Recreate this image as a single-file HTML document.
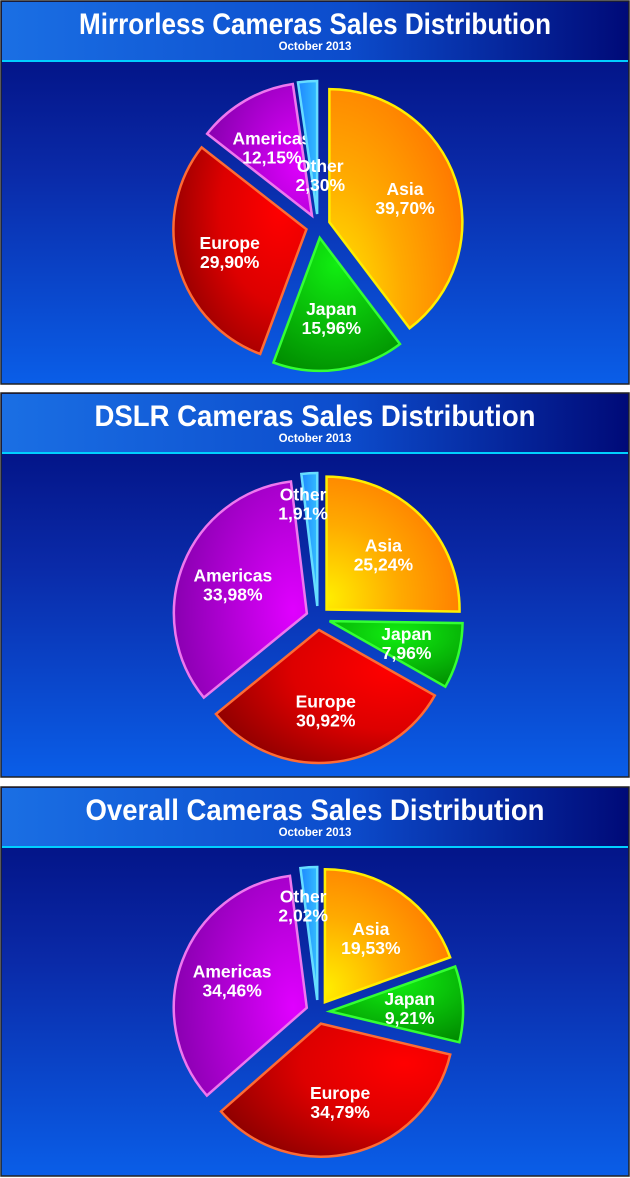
<!DOCTYPE html>
<html><head><meta charset="utf-8">
<style>
html,body{margin:0;padding:0;background:#fff;width:630px;height:1178px;overflow:hidden}
svg{display:block;font-family:"Liberation Sans",Arial,sans-serif}
</style></head>
<body>
<svg id="root" width="630" height="1178" viewBox="0 0 630 1178">
<defs>
<linearGradient id="hdr" x1="0" y1="0" x2="1" y2="0"><stop offset="0" stop-color="#1a6fe4"/><stop offset="0.55" stop-color="#0c4ccc"/><stop offset="1" stop-color="#000a78"/></linearGradient>
<linearGradient id="bod" x1="0" y1="0" x2="0" y2="1"><stop offset="0" stop-color="#000a78"/><stop offset="0.45" stop-color="#0a2aa8"/><stop offset="1" stop-color="#0a5ee8"/></linearGradient>
<radialGradient id="g-asia" cx="0" cy="0.9" r="1.1"><stop offset="0" stop-color="#ffee00"/><stop offset="0.5" stop-color="#ffaa00"/><stop offset="1" stop-color="#ff7800"/></radialGradient>
<radialGradient id="g-japan" cx="0.5" cy="0.2" r="0.9"><stop offset="0" stop-color="#11ee11"/><stop offset="1" stop-color="#008a00"/></radialGradient>
<radialGradient id="g-europe" cx="0.8" cy="0.3" r="0.9"><stop offset="0" stop-color="#ff0000"/><stop offset="0.5" stop-color="#dd0000"/><stop offset="1" stop-color="#8a0000"/></radialGradient>
<radialGradient id="g-americas" cx="0.9" cy="0.6" r="1"><stop offset="0" stop-color="#e000ff"/><stop offset="1" stop-color="#8000a8"/></radialGradient>
<linearGradient id="g-other" x1="0" y1="0" x2="1" y2="0"><stop offset="0" stop-color="#1e88ff"/><stop offset="1" stop-color="#33bbff"/></linearGradient>
</defs>
</svg>
<script>
const NS='http://www.w3.org/2000/svg';
const titles=['Mirrorless Cameras Sales Distribution','DSLR Cameras Sales Distribution','Overall Cameras Sales Distribution'];
const titleWidths=[472,441,459];
const regions=['Asia','Japan','Europe','Americas','Other'];
const mirrorlessValues=[39.70,15.96,29.90,12.15,2.30];
const dslrValues=[25.24,7.96,30.92,33.98,1.91];
const overallValues=[19.53,9.21,34.79,34.46,2.02];
const valueLabels=[['39,70%','15,96%','29,90%','12,15%','2,30%'],['25,24%','7,96%','30,92%','33,98%','1,91%'],['19,53%','9,21%','34,79%','34,46%','2,02%']];
const allValues=[mirrorlessValues,dslrValues,overallValues];
const fills=['url(#g-asia)','url(#g-japan)','url(#g-europe)','url(#g-americas)','url(#g-other)'];
const strokes=['#ffee00','#33ff33','#ff6a33','#ee77ee','#66ddff'];
const panelTops=[1,393,787];
const panelH=[383,384,389];
const otherLabelR=[0.3,0.78,0.72];
const root=document.getElementById('root');
function mk(tag,attrs,parent){const e=document.createElementNS(NS,tag);for(const k in attrs)e.setAttribute(k,attrs[k]);parent.appendChild(e);return e;}
function angleScale(v,total){return v/total*Math.PI*2;}
allValues.forEach((vals,pi)=>{
  const top=panelTops[pi],h=panelH[pi];
  const g=mk('g',{},root);
  
  
  const bg=mk('rect',{x:1,y:top,width:628,height:h,fill:'url(#bod)',stroke:'#222',"stroke-width":1.5},g);
  
  
  const hd=mk('rect',{x:2,y:top+1,width:626,height:58,fill:'url(#hdr)'},g);
  
  
  const ln=mk('rect',{x:2,y:top+59,width:626,height:2,fill:'#00d0ff'},g);
  
  
  const t=mk('text',{x:315,y:top+33,"text-anchor":"middle",fill:'#fff',"font-size":30,"font-weight":'bold',textLength:titleWidths[pi],lengthAdjust:'spacingAndGlyphs'},g);
  t.textContent=titles[pi];
  
  
  const st=mk('text',{x:315,y:top+49,"text-anchor":"middle",fill:'#fff',"font-size":11.5,"font-weight":'bold'},g);
  st.textContent='October 2013';
  
  
  const cx=318,cy=top+225,r=133,ex=12;
  const total=vals.reduce((a,b)=>a+b,0);
  let a0=0;
  vals.forEach((v,i)=>{
    const span=angleScale(v,total),a1=a0+span,mid=a0+span/2;
    const ox=cx+ex*Math.sin(mid),oy=cy-ex*Math.cos(mid);
    const x0=ox+r*Math.sin(a0),y0=oy-r*Math.cos(a0),x1=ox+r*Math.sin(a1),y1=oy-r*Math.cos(a1);
    const d=`M${ox},${oy} L${x0},${y0} A${r},${r} 0 ${span>Math.PI?1:0} 1 ${x1},${y1} Z`;
    const p=mk('path',{d:d,fill:fills[i],stroke:strokes[i],"stroke-width":2.5,"stroke-linejoin":'miter'},g);
    
    
    const lr=(i===4?otherLabelR[pi]:0.6)*r;
    const lx=ox+lr*Math.sin(mid)+(i===4?(pi===0?6:-8):0),ly=oy-lr*Math.cos(mid);
    const tx=mk('text',{x:lx,y:ly-2,"text-anchor":"middle",fill:'#fff',"font-size":17.5,"font-weight":'bold'},g);
    
    
    const s1=mk('tspan',{x:lx,dy:0},tx);s1.textContent=regions[i];
    const s2=mk('tspan',{x:lx,dy:19},tx);s2.textContent=valueLabels[pi][i];
    a0=a1;
  });
});
</script>
</body></html>
